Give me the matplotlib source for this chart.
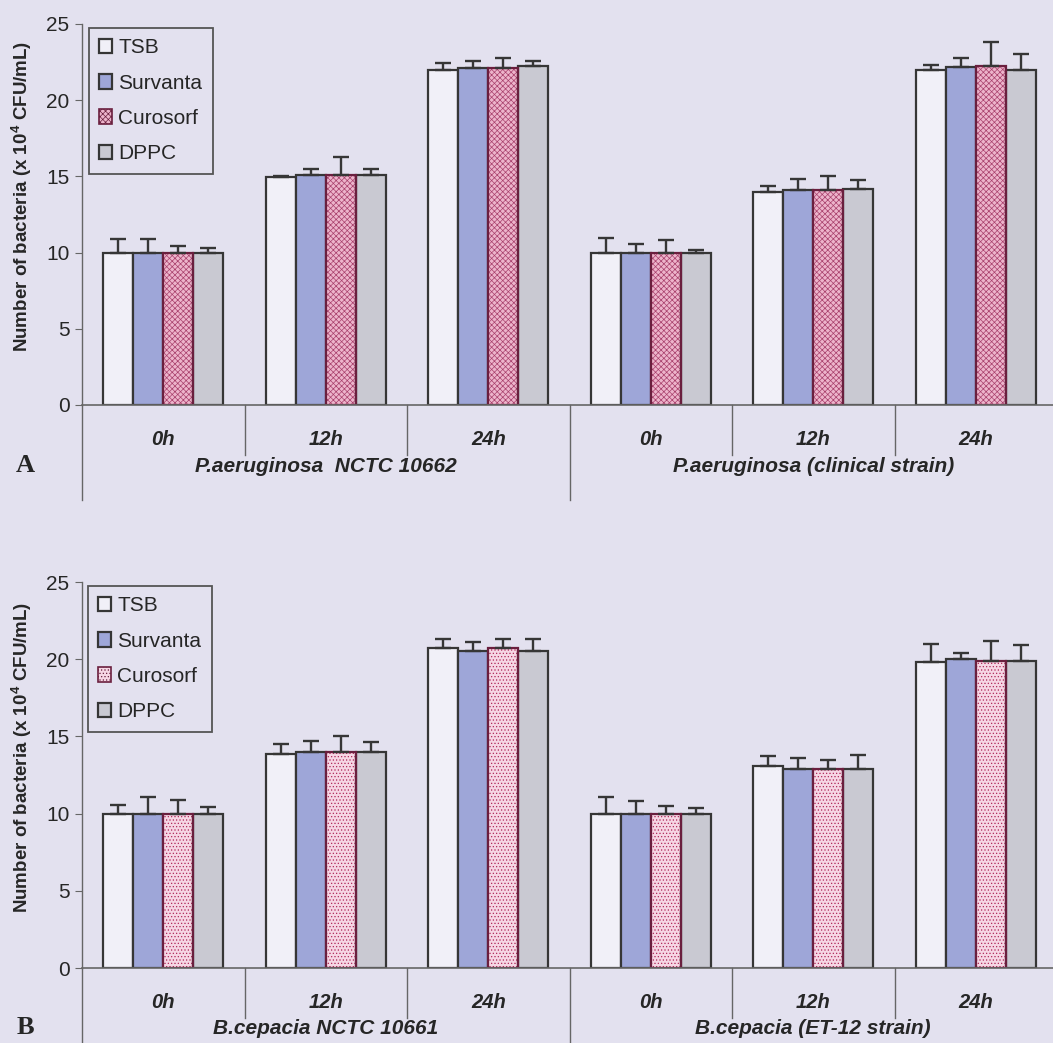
import numpy as np
import matplotlib
matplotlib.use("Agg")
from matplotlib import pyplot as plt

plt.rcParams['font.family'] = ['Liberation Sans', 'DejaVu Sans']
plt.rcParams['mathtext.fontset'] = 'custom'
plt.rcParams['mathtext.rm'] = 'Liberation Sans'
plt.rcParams['mathtext.bf'] = 'Liberation Sans:bold'
plt.rcParams['hatch.linewidth'] = 0.5

# data (x 10^4 CFU/mL), mean and upper error
times = ['0h', '12h', '24h', '0h', '12h', '24h']
media = ['TSB', 'Survanta', 'Curosorf', 'DPPC']

strains_a = ['P.aeruginosa  NCTC 10662', 'P.aeruginosa (clinical strain)']
tsb_a = [10.0, 14.95, 22.0, 10.0, 14.0, 22.0]
tsb_a_err = [0.9, 0.1, 0.45, 0.95, 0.4, 0.3]
surv_a = [10.0, 15.1, 22.1, 10.0, 14.1, 22.15]
surv_a_err = [0.9, 0.4, 0.5, 0.55, 0.7, 0.65]
curo_a = [10.0, 15.1, 22.1, 10.0, 14.1, 22.27]
curo_a_err = [0.45, 1.15, 0.65, 0.85, 0.9, 1.55]
dppc_a = [10.0, 15.1, 22.25, 10.0, 14.2, 22.0]
dppc_a_err = [0.3, 0.4, 0.35, 0.2, 0.55, 1.05]

strains_b = ['B.cepacia NCTC 10661', 'B.cepacia (ET-12 strain)']
tsb_b = [10.0, 13.85, 20.75, 10.0, 13.1, 19.8]
tsb_b_err = [0.55, 0.65, 0.55, 1.05, 0.6, 1.2]
surv_b = [10.0, 14.0, 20.5, 10.0, 12.9, 20.0]
surv_b_err = [1.05, 0.7, 0.6, 0.8, 0.7, 0.4]
curo_b = [10.0, 14.0, 20.75, 10.0, 12.9, 19.9]
curo_b_err = [0.85, 1.05, 0.55, 0.5, 0.55, 1.25]
dppc_b = [10.0, 14.0, 20.5, 10.0, 12.9, 19.9]
dppc_b_err = [0.45, 0.65, 0.8, 0.35, 0.9, 1.0]

W, H = 1053, 1043
BG = '#E3E1EF'
EDGE = '#363636'
TXT = '#262626'

fig = plt.figure(figsize=(W / 100, H / 100), dpi=100, facecolor=BG)


def px_rect(left, top, right, bottom):
    return [left / W, 1 - bottom / H, (right - left) / W, (bottom - top) / H]


def draw_panel(rect, series, errs, strains, curo_hatch, curo_face, hatch_col,
               letter, ylab_y, legend_xy):
    ax = fig.add_axes(rect)
    ax.set_facecolor(BG)
    ax_h = rect[3] * H  # axes height in pixels
    axis_y = (1 - rect[1]) * H  # pixel row of y=0

    x = np.arange(len(times))
    w = 0.185
    styles = [
        dict(color='#F1F0F8', edgecolor=EDGE, hatch=None),
        dict(color='#9EA6D8', edgecolor=EDGE, hatch=None),
        dict(color=curo_face, edgecolor='#6a1f3e', hatch=curo_hatch),
        dict(color='#C9C9D2', edgecolor=EDGE, hatch=None),
    ]
    for i, (vals, err, st) in enumerate(zip(series, errs, styles)):
        pos = x + (i - 1.5) * w
        if st['hatch']:
            # hatch layer in a lighter red, outline drawn on top
            ax.bar(pos, vals, w, color=st['color'], edgecolor=hatch_col,
                   hatch=st['hatch'], linewidth=0, zorder=2)
            ax.bar(pos, vals, w, fill=False, edgecolor=st['edgecolor'],
                   linewidth=1.6, zorder=2.1)
            # legend proxy
            ax.bar([np.nan], [np.nan], w, color=st['color'], edgecolor=st['edgecolor'],
                   hatch=st['hatch'], linewidth=1.2, label=media[i])
        else:
            ax.bar(pos, vals, w, color=st['color'], edgecolor=st['edgecolor'],
                   linewidth=1.6, label=media[i], zorder=2)
        ax.errorbar(pos, vals, yerr=[np.zeros(len(vals)), err], fmt='none',
                    ecolor=EDGE, elinewidth=1.7, capsize=6, capthick=1.7, zorder=3)

    ax.set_xlim(-0.5, len(times) - 0.5)
    ax.set_ylim(0, 25)
    ax.set_yticks(np.arange(0, 26, 5))
    ax.tick_params(axis='y', direction='out', length=5, color='#666666',
                   labelsize=15, pad=4, labelcolor=TXT)
    ax.set_xticks(x)
    ax.set_xticklabels(times, fontsize=14.5, fontweight='bold', fontstyle='italic')
    ax.tick_params(axis='x', length=0, pad=18, labelcolor=TXT)
    for s in ['top', 'right']:
        ax.spines[s].set_visible(False)
    ax.spines['left'].set_color('#666666')
    ax.spines['bottom'].set_color('#666666')
    ax.spines['left'].set_linewidth(1.0)
    ax.spines['bottom'].set_linewidth(1.2)

    # multi-level category axis dividers
    trans = ax.get_xaxis_transform()
    for k in range(len(times) + 1):
        depth = 95 if k % 3 == 0 else 50
        ax.plot([k - 0.5, k - 0.5], [0, -depth / ax_h], color='#666666',
                lw=1.0, transform=trans, clip_on=False)
    for j, name in enumerate(strains):
        ax.text(3 * j + 1, -61 / ax_h, name, transform=trans, ha='center', va='center',
                fontsize=15, fontweight='bold', fontstyle='italic', color=TXT)

    leg = ax.legend(loc='upper left', bbox_to_anchor=(legend_xy[0] / W, 1 - legend_xy[1] / H),
                    bbox_transform=fig.transFigure, fontsize=15, frameon=True,
                    fancybox=False, edgecolor='#555555', facecolor=BG, framealpha=1,
                    handlelength=0.6, handleheight=0.7, handletextpad=0.3,
                    labelspacing=0.78, borderpad=0.5, borderaxespad=0)
    leg.get_frame().set_linewidth(1.3)
    for t in leg.get_texts():
        t.set_color(TXT)

    fig.text(22 / W, 1 - ylab_y / H, r'Number of bacteria (x 10$^{\mathbf{4}}$ CFU/mL)',
             rotation=90, ha='center', va='center', fontsize=13.5, fontweight='bold',
             color=TXT)
    fig.text(25 / W, 1 - (axis_y + 60) / H, letter,
             family='Liberation Serif', fontweight='bold', fontsize=19,
             ha='center', va='center', color=TXT)
    return ax


draw_panel(px_rect(82, 24, 1057, 405),
           [tsb_a, surv_a, curo_a, dppc_a],
           [tsb_a_err, surv_a_err, curo_a_err, dppc_a_err],
           strains_a, 'xxxxxx', '#EDB4CB', '#A8406C', 'A', 196, (89, 28))

draw_panel(px_rect(82, 582, 1057, 968),
           [tsb_b, surv_b, curo_b, dppc_b],
           [tsb_b_err, surv_b_err, curo_b_err, dppc_b_err],
           strains_b, '.....', '#F6D6E4', '#B0285A', 'B', 757, (88, 586))

fig.savefig('out.png', dpi=100, facecolor=BG)
